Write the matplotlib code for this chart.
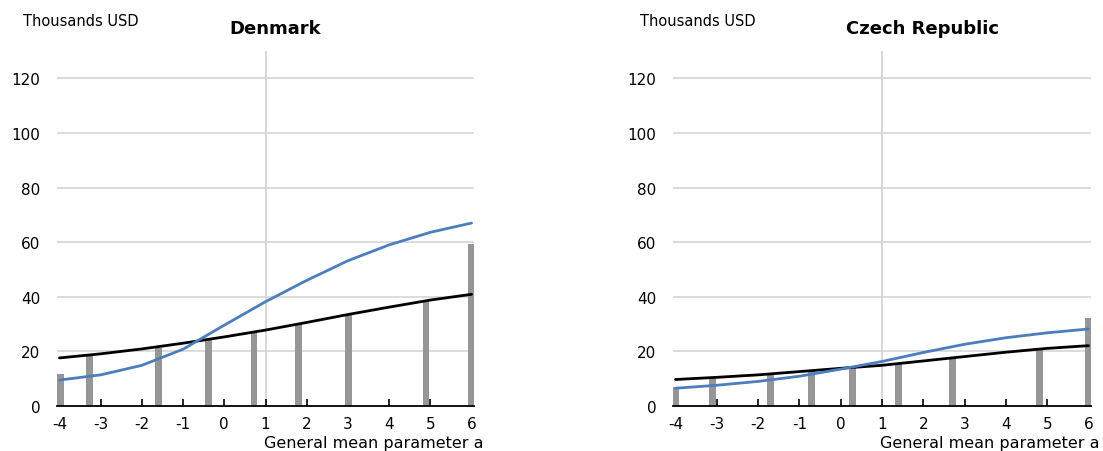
import matplotlib
matplotlib.use("Agg")
import matplotlib.pyplot as plt

plt.rcParams["font.family"] = ["DejaVu Sans"]
plt.rcParams["axes.unicode_minus"] = False

# General mean parameter values for the smooth curves
alpha = [-4, -3, -2, -1, 0, 1, 2, 3, 4, 5, 6]

# Denmark
dk_blue = [9.5, 11.4, 14.9, 20.8, 29.6, 38.2, 46.0, 53.2, 59.0, 63.6, 67.0]
dk_black = [17.6, 19.1, 20.9, 23.0, 25.3, 27.8, 30.6, 33.5, 36.2, 38.8, 40.9]
dk_bar_x = [-3.98, -3.27, -1.59, -0.38, 0.72, 1.80, 3.01, 4.90, 6.0]
dk_bar_y = [11.6, 19.1, 21.4, 24.5, 27.4, 30.0, 33.6, 38.6, 59.2]

# Czech Republic
cz_blue = [6.5, 7.6, 9.0, 10.9, 13.5, 16.3, 19.6, 22.6, 25.0, 26.8, 28.2]
cz_black = [9.7, 10.5, 11.4, 12.6, 13.8, 14.9, 16.5, 18.1, 19.7, 21.1, 22.1]
cz_bar_x = [-4.0, -3.11, -1.70, -0.70, 0.29, 1.40, 2.71, 4.81, 6.0]
cz_bar_y = [6.9, 10.7, 12.0, 13.3, 14.2, 15.4, 17.8, 21.4, 32.4]

panels = [
    ("Denmark", dk_blue, dk_black, dk_bar_x, dk_bar_y),
    ("Czech Republic", cz_blue, cz_black, cz_bar_x, cz_bar_y),
]

W, H = 1103, 452
fig = plt.figure(figsize=(W / 100, H / 100), dpi=100)

# axes boxes in pixels: left, right
boxes = [(57, 474), (673, 1091)]
title_x = [275, 923]
unit_x = [23, 640]
bottom_px, top_px = 407, 52

for (name, blue, black, bx, by), (l, r), tx, ux in zip(panels, boxes, title_x, unit_x):
    ax = fig.add_axes([l / W, 1 - bottom_px / H, (r - l) / W, (bottom_px - top_px) / H])
    ax.set_xlim(-4.06, 6.06)
    ax.set_ylim(0, 130)
    for y in range(20, 121, 20):
        ax.axhline(y, color="#d9d9d9", lw=1.3, zorder=0)
    ax.axvline(1, color="#d4d4d4", lw=1.3, zorder=0)

    ax.bar(bx, by, width=0.16, color="#969696", zorder=2)
    ax.plot(alpha, black, color="black", lw=2.0, zorder=3, solid_capstyle="round")
    ax.plot(alpha, blue, color="#4a7ebf", lw=2.0, zorder=4, solid_capstyle="round")

    for s in ["top", "right", "left"]:
        ax.spines[s].set_visible(False)
    ax.spines["bottom"].set_color("black")
    ax.spines["bottom"].set_linewidth(1.3)
    ax.spines["bottom"].set_zorder(5)

    ax.set_xticks(range(-4, 7))
    ax.set_yticks(range(0, 121, 20))
    ax.tick_params(axis="x", direction="in", length=5, width=1.2, pad=7,
                   labelsize=11, color="black")
    ax.tick_params(axis="y", length=0, pad=12, labelsize=11)

    fig.text(tx / W, 1 - 29 / H, name, ha="center", va="center",
             fontsize=13, fontweight="bold")
    fig.text(ux / W, 1 - 22 / H, "Thousands USD", ha="left", va="center",
             fontsize=10.5)
    fig.text((r + 9) / W, 1 - 444 / H, "General mean parameter a",
             ha="right", va="center", fontsize=11.5)

fig.savefig("out.png", dpi=100)
